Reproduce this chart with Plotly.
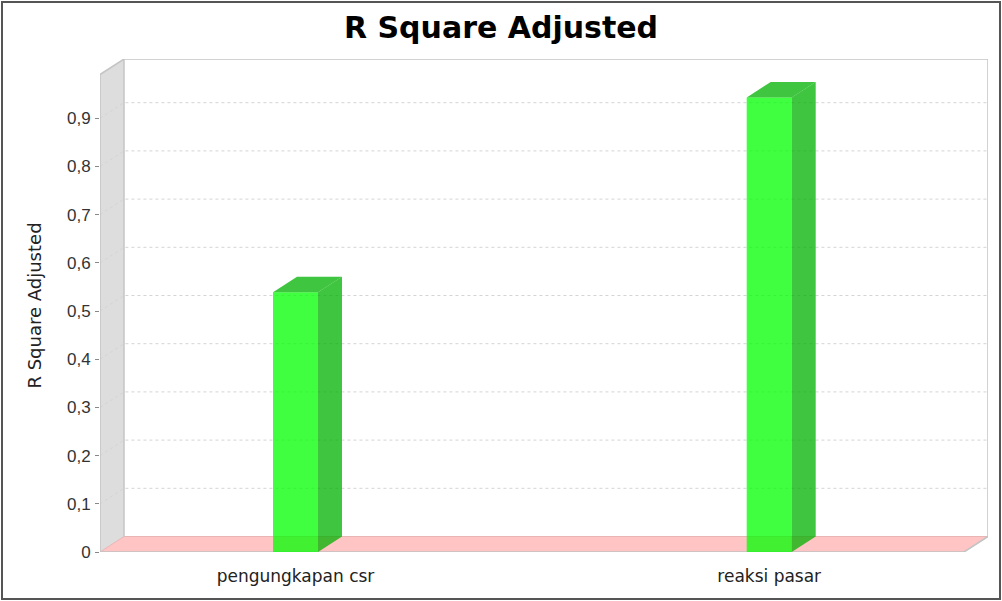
import plotly.graph_objects as go

# ---------------- data ----------------
categories = ["pengungkapan csr", "reaksi pasar"]
values = [0.539, 0.943]
y_tick_values = [0, 0.1, 0.2, 0.3, 0.4, 0.5, 0.6, 0.7, 0.8, 0.9]
y_tick_labels = ["0", "0,1", "0,2", "0,3", "0,4", "0,5", "0,6", "0,7", "0,8", "0,9"]
chart_title = "R Square Adjusted"
y_axis_title = "R Square Adjusted"

# ---------------- geometry / style ----------------
W, H = 1002, 601
M_L, M_R, M_T, M_B = 100, 14, 59, 49
PLOT_W = W - M_L - M_R
PLOT_H = H - M_T - M_B
PX_PER_CAT = 473.7      # pixels between category centres
PX_PER_UNIT = 482.0     # pixels per 1.0 on the value axis
FIRST_CAT_PX = 195.5    # plot left edge -> first category centre
DEPTH_X_PX, DEPTH_Y_PX = 24, 15.5
BAR_W_PX = 45

x_min = -FIRST_CAT_PX / PX_PER_CAT
x_max = x_min + PLOT_W / PX_PER_CAT
y_max = PLOT_H / PX_PER_UNIT
dx = DEPTH_X_PX / PX_PER_CAT
dy = DEPTH_Y_PX / PX_PER_UNIT
bw = BAR_W_PX / PX_PER_CAT

FRONT = "rgba(0,255,0,0.75)"
DARK = "rgba(0,178,0,0.75)"

xs = list(range(len(categories)))

fig = go.Figure()

# front faces of the bars
fig.add_trace(go.Bar(
    x=xs, y=values, width=bw,
    marker=dict(color=FRONT, line=dict(width=0)),
    hoverinfo="skip", showlegend=False,
))

# side and top faces (derived from the values)
for xi, v in zip(xs, values):
    xl, xr = xi - bw / 2, xi + bw / 2
    fig.add_trace(go.Scatter(
        x=[xr, xr + dx, xr + dx, xr, xr],
        y=[0, dy, v + dy, v, 0],
        mode="lines", fill="toself", fillcolor=DARK,
        line=dict(width=0), hoverinfo="skip", showlegend=False,
    ))
    fig.add_trace(go.Scatter(
        x=[xl, xr, xr + dx, xl + dx, xl],
        y=[v, v, v + dy, v + dy, v],
        mode="lines", fill="toself", fillcolor=DARK,
        line=dict(width=0), hoverinfo="skip", showlegend=False,
    ))

shapes = []
# left wall
shapes.append(dict(
    type="path", xref="x", yref="y", layer="below",
    path=f"M {x_min},0 L {x_min},{y_max - dy} L {x_min + dx},{y_max} L {x_min + dx},{dy} Z",
    fillcolor="#dddddd", line=dict(width=0),
))
# floor
shapes.append(dict(
    type="path", xref="x", yref="y", layer="below",
    path=f"M {x_min},0 L {x_max - dx},0 L {x_max},{dy} L {x_min + dx},{dy} Z",
    fillcolor="#ffc4c4", line=dict(width=1, color="#e8b4b4"),
))
# gridlines (left wall diagonal + back wall)
for v in y_tick_values[1:]:
    shapes.append(dict(
        type="path", xref="x", yref="y", layer="below",
        path=f"M {x_min},{v} L {x_min + dx},{v + dy} L {x_max},{v + dy}",
        line=dict(width=1, color="#d4d4d4", dash="3px,3px"),
    ))
# outline of the 3D box
shapes.append(dict(
    type="path", xref="x", yref="y", layer="below",
    path=(f"M {x_min},0 L {x_min},{y_max - dy} L {x_min + dx},{y_max} "
          f"L {x_max},{y_max} L {x_max},{dy} L {x_max - dx},0 Z"),
    line=dict(width=1.5, color="#c4c4c4"),
))
shapes.append(dict(
    type="path", xref="x", yref="y", layer="below",
    path=f"M {x_min + dx},{dy} L {x_min + dx},{y_max}",
    line=dict(width=1.5, color="#c4c4c4"),
))
# outer frame of the chart
shapes.append(dict(
    type="rect", xref="paper", yref="paper", layer="above",
    x0=(2 - M_L) / PLOT_W, x1=(W - 2 - M_L) / PLOT_W,
    y0=-(M_B - 2) / PLOT_H, y1=(PLOT_H + M_T - 2) / PLOT_H,
    line=dict(width=2, color="#555555"), fillcolor="rgba(0,0,0,0)",
))

fig.update_layout(
    width=W, height=H,
    margin=dict(l=M_L, r=M_R, t=M_T, b=M_B, pad=0),
    paper_bgcolor="white", plot_bgcolor="white",
    showlegend=False, hovermode=False,
    title=dict(
        text=chart_title, x=0.5, xanchor="center", xref="container",
        y=1 - 27 / H, yref="container", yanchor="middle",
        font=dict(family="DejaVu Sans", size=30, color="black", weight="bold"),
    ),
    xaxis=dict(
        range=[x_min, x_max], tickvals=xs, ticktext=categories,
        showgrid=False, zeroline=False, showline=False, ticks="",
        ticklabelstandoff=12,
        tickfont=dict(family="DejaVu Sans", size=17, color="#222222"),
        fixedrange=True,
    ),
    yaxis=dict(
        range=[0, y_max], tickvals=y_tick_values, ticktext=y_tick_labels,
        showgrid=False, zeroline=False, showline=False,
        ticks="outside", ticklen=4, tickwidth=1, tickcolor="#888888",
        ticklabelstandoff=1,
        tickfont=dict(family="Liberation Sans", size=17, color="#333333"),
        title=dict(text=y_axis_title, standoff=20,
                   font=dict(family="DejaVu Sans", size=18, color="#222222")),
        fixedrange=True,
    ),
    shapes=shapes,
)

fig.write_html("out.html", config={"displayModeBar": False},
               post_script="document.body.style.margin='0';")
